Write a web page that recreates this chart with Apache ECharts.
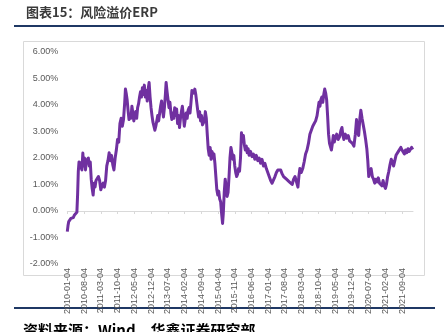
<!DOCTYPE html>
<html>
<head>
<meta charset="utf-8">
<script src="https://cdn.jsdelivr.net/npm/echarts@6/dist/echarts.min.js"></script>
<style>
  html, body { margin: 0; padding: 0; background: #fff; }
  #chart { width: 444px; height: 332px; }
</style>
</head>
<body>
<div id="chart"></div>
<script>
// Months elapsed since 2010-01-04 for each sample
const monthIdx = [
  0, 0.3, 0.6, 1.0, 1.5, 2.0, 2.5, 3.0, 3.5, 4.0, 4.3, 4.6, 4.9, 5.3, 5.7, 6.1, 6.5, 6.8, 7.2, 7.6,
  8.0, 8.4, 8.8, 9.2, 9.6, 10.0, 10.4, 10.8, 11.2, 11.6, 12.0, 12.5, 13.0, 13.5, 14.0, 14.5, 15.0, 15.5, 16.0, 16.5,
  17.0, 17.5, 18.0, 18.5, 19.0, 19.5, 20.0, 20.5, 21.0, 21.5, 22.0, 22.5, 23.0, 23.5, 24.0, 24.3, 24.6, 25.0, 25.4, 25.8,
  26.2, 26.6, 27.0, 27.4, 27.8, 28.2, 28.6, 29.0, 29.4, 29.8, 30.2, 30.6, 31.0, 31.4, 31.8, 32.2, 32.6, 33.0, 33.4, 33.8,
  34.2, 34.6, 35.0, 35.4, 35.8, 36.2, 36.6, 37.0, 37.4, 37.8, 38.2, 38.6, 39.0, 39.4, 39.8, 40.2, 40.6, 41.0, 41.3, 41.7,
  42.1, 42.5, 42.9, 43.3, 43.7, 44.1, 44.5, 44.9, 45.3, 45.7, 46.1, 46.5, 46.9, 47.3, 47.7, 48.1, 48.5, 48.9, 49.3, 49.7,
  50.1, 50.5, 50.9, 51.3, 51.7, 52.1, 52.5, 52.9, 53.3, 53.7, 54.1, 54.5, 54.9, 55.3, 55.7, 56.1, 56.5, 56.9, 57.3, 57.7,
  58.1, 58.5, 58.9, 59.3, 59.7, 60.1, 60.5, 60.9, 61.3, 61.7, 62.1, 62.5, 62.9, 63.3, 63.7, 64.1, 64.5, 64.9, 65.2, 65.6,
  66.0, 66.4, 66.8, 67.2, 67.6, 68.0, 68.4, 68.8, 69.2, 69.6, 70.0, 70.4, 70.8, 71.2, 71.6, 72.0, 72.4, 72.8, 73.2, 73.6,
  74.0, 74.4, 74.8, 75.2, 75.6, 76.0, 76.6, 77.2, 77.8, 78.4, 79.0, 79.6, 80.2, 80.8, 81.4, 82.0, 82.6, 83.2, 83.8, 84.4,
  85.0, 85.6, 86.2, 86.8, 87.4, 88.0, 88.6, 89.2, 89.8, 90.4, 91.0, 91.6, 92.2, 92.8, 93.4, 94.0, 94.6, 95.2, 95.8, 96.4,
  96.8, 97.2, 97.8, 98.4, 99.0, 99.6, 100.2, 100.8, 101.4, 102.0, 102.6, 103.2, 103.8, 104.4, 104.8, 105.2, 105.6, 106.0, 106.4, 106.8,
  107.2, 107.6, 108.0, 108.4, 108.8, 109.2, 109.6, 110.0, 110.4, 110.8, 111.2, 111.6, 112.0, 112.6, 113.2, 113.8, 114.4, 114.8, 115.2, 115.6,
  116.2, 116.8, 117.4, 118.0, 118.6, 119.2, 119.8, 120.4, 120.9, 121.3, 121.8, 122.3, 122.7, 123.2, 123.7, 124.2, 124.7, 125.2, 125.6, 126.0,
  126.5, 127.0, 127.5, 128.0, 128.5, 129.0, 129.5, 130.0, 130.5, 131.0, 131.5, 132.0, 132.5, 133.0, 133.4, 133.9, 134.4, 134.9, 135.4, 135.9,
  136.4, 136.9, 137.4, 137.9, 138.4, 138.9, 139.4, 139.9, 140.4, 140.9, 141.4, 141.9, 142.4, 142.9, 143.4, 143.9, 144.4
];

// Equity risk premium, percent
const erp = [
  -0.78, -0.55, -0.40, -0.35, -0.28, -0.22, -0.25, -0.15, -0.12, -0.05, 0.60, 1.50, 1.85, 1.62, 1.82, 1.55, 2.19, 1.70, 2.00, 1.55,
  1.90, 1.85, 2.00, 1.70, 1.85, 1.20, 0.85, 0.60, 1.05, 0.90, 1.15, 1.10, 1.30, 1.15, 0.80, 0.95, 1.05, 0.90, 1.15, 1.70,
  1.90, 2.20, 1.90, 2.10, 1.75, 1.55, 2.00, 2.30, 2.70, 2.60, 3.30, 3.50, 3.20, 3.45, 4.10, 4.60, 4.45, 4.20, 3.80, 3.45,
  3.60, 3.50, 3.95, 3.70, 3.40, 3.60, 3.75, 3.50, 3.90, 4.05, 4.30, 4.50, 4.30, 4.65, 4.40, 4.75, 4.30, 4.55, 4.15, 4.60,
  4.85, 4.30, 3.90, 3.60, 3.35, 3.20, 3.05, 3.20, 3.40, 3.60, 3.40, 3.70, 3.95, 4.15, 3.80, 3.55, 3.90, 4.40, 4.85, 4.50,
  4.20, 3.90, 4.10, 3.70, 3.45, 3.70, 3.50, 3.90, 3.60, 3.85, 3.30, 3.60, 3.15, 3.50, 3.75, 3.95, 3.60, 3.20, 3.45, 3.70,
  3.50, 3.80, 3.90, 3.70, 4.10, 4.55, 4.60, 4.45, 4.60, 4.40, 4.10, 3.80, 3.55, 3.75, 3.40, 3.60, 3.25, 3.20, 3.40, 3.75,
  3.50, 2.90, 2.35, 2.10, 2.40, 1.95, 2.25, 2.00, 2.15, 1.80, 1.30, 0.80, 0.60, 0.75, 0.45, 0.35, -0.10, -0.47, -0.10, 0.70,
  1.20, 0.90, 0.55, 0.70, 1.30, 2.00, 2.40, 2.20, 1.95, 2.10, 1.70, 1.45, 1.30, 1.40, 1.60, 1.50, 2.00, 2.95, 2.70, 2.85,
  2.50, 2.30, 2.45, 2.20, 2.35, 2.10, 2.25, 2.05, 2.15, 1.95, 2.10, 1.90, 2.00, 1.80, 1.95, 1.70, 1.80, 1.60, 1.45, 1.30,
  1.15, 1.05, 1.10, 1.30, 1.45, 1.55, 1.50, 1.55, 1.40, 1.30, 1.35, 1.20, 1.25, 1.10, 1.15, 1.00, 1.20, 1.30, 1.10, 0.90,
  1.30, 1.60, 1.45, 1.60, 1.85, 2.15, 2.30, 2.55, 2.90, 3.05, 3.20, 3.30, 3.40, 3.60, 3.85, 4.10, 3.95, 4.20, 4.30, 4.10,
  4.40, 4.60, 4.45, 4.20, 3.60, 2.90, 2.55, 2.60, 2.30, 2.55, 2.85, 2.60, 2.75, 2.90, 2.70, 2.80, 3.05, 3.15, 2.85, 2.70,
  2.90, 2.75, 2.85, 2.65, 2.70, 2.55, 2.45, 2.90, 3.45, 3.00, 2.85, 3.50, 3.80, 3.50, 3.25, 3.00, 2.70, 2.35, 1.90, 1.30,
  1.50, 1.60, 1.30, 1.20, 1.05, 1.20, 1.10, 1.25, 1.05, 1.10, 0.95, 1.15, 0.95, 0.85, 1.00, 1.30, 1.50, 1.75, 1.95, 1.85,
  1.70, 1.90, 2.10, 2.05, 2.25, 2.20, 2.40, 2.30, 2.35, 2.15, 2.30, 2.20, 2.35, 2.25, 2.30, 2.40, 2.32
];

// Date labels along the x axis, one every 7 months
const tickLabels = [
  '2010-01-04', '2010-08-04', '2011-03-04', '2011-10-04', '2012-05-04', '2012-12-04', '2013-07-04',
  '2014-02-04', '2014-09-04', '2015-04-04', '2015-11-04', '2016-06-04', '2017-01-04', '2017-08-04',
  '2018-03-04', '2018-10-04', '2019-05-04', '2019-12-04', '2020-07-04', '2021-02-04', '2021-09-04'
];
const tickStep = 7;
const tickValues = tickLabels.map((_, i) => i * tickStep);

const yTicks = [-2, -1, 0, 1, 2, 3, 4, 5, 6];

const chart = echarts.init(document.getElementById('chart'), null, { renderer: 'canvas' });

const option = {
  backgroundColor: '#ffffff',
  animation: false,
  grid: { left: 67.3, right: 31, top: 52, bottom: 68, containLabel: false },
  xAxis: {
    type: 'value',
    min: 0,
    max: 144.5,
    interval: tickStep,
    splitLine: { show: false },
    axisLine: { show: true, onZero: true, lineStyle: { color: '#d9d9d9', width: 1 } },
    axisTick: {
      show: true,
      customValues: tickValues,
      length: 3,
      lineStyle: { color: '#d9d9d9' }
    },
    axisLabel: {
      customValues: tickValues,
      rotate: 90,
      margin: 4,
      color: '#595959',
      fontFamily: 'Liberation Sans, Arial, sans-serif',
      fontSize: 9,
      formatter: v => tickLabels[Math.round(v / tickStep)] || ''
    }
  },
  yAxis: {
    type: 'value',
    min: yTicks[0],
    max: yTicks[yTicks.length - 1],
    interval: 1,
    splitLine: { show: false },
    axisLine: { show: false },
    axisTick: { show: false },
    axisLabel: {
      margin: 9,
      color: '#595959',
      fontFamily: 'Liberation Sans, Arial, sans-serif',
      fontSize: 9,
      formatter: v => v.toFixed(2) + '%'
    }
  },
  series: [{
    type: 'line',
    data: monthIdx.map((m, i) => [m, erp[i]]),
    showSymbol: false,
    smooth: false,
    lineStyle: { color: '#7030a0', width: 3, join: 'round' },
    itemStyle: { color: '#7030a0' }
  }],
  graphic: [
    {
      type: 'text', left: 26, top: 6,
      style: {
        text: '图表15：风险溢价ERP',
        fill: '#3a3a3a',
        font: 'bold 13px "Noto Sans CJK SC", sans-serif'
      }
    },
    {
      type: 'rect', shape: { x: 14, y: 25, width: 430, height: 2 },
      style: { fill: '#1f3864' }
    },
    {
      type: 'rect', shape: { x: 23.5, y: 41.5, width: 401, height: 234 },
      style: { fill: 'none', stroke: '#d9d9d9', lineWidth: 1 },
      silent: true
    },
    {
      type: 'rect', shape: { x: 14, y: 307, width: 421, height: 2 },
      style: { fill: '#1f3864' }
    },
    {
      type: 'text', left: 23, top: 323,
      style: {
        text: '资料来源：Wind，华鑫证券研究部',
        fill: '#000000',
        font: 'bold 15px "Noto Sans CJK SC", sans-serif'
      }
    }
  ]
};

chart.setOption(option);
</script>
</body>
</html>
